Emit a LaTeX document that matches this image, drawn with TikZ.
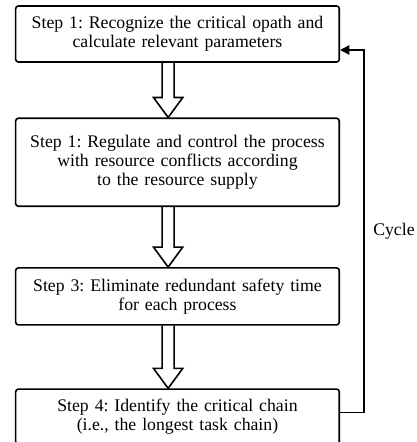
\documentclass[tikz,border=0pt]{standalone}
\usepackage{fontspec}
\setmainfont{Liberation Serif}
\frenchspacing
\usepackage{tikz}
\usetikzlibrary{
	arrows.meta,
	positioning,
	calc
}
% hollow block arrow from a node anchor down to another one
\newcommand{\hollowarrow}[2]{%
	\draw[outline] let \p1=(#1), \p2=(#2) in
		(\x1-4.5pt,\y1) -- (\x1-4.5pt,\y2+15pt) -- (\x1-11pt,\y2+15pt) -- (\x1,\y2)
		-- (\x1+11pt,\y2+15pt) -- (\x1+4.5pt,\y2+15pt) -- (\x1+4.5pt,\y1);
}

\begin{document}
\begin{tikzpicture}[
				stepbox/.style={
					rectangle, draw, rounded corners=2pt, line width=1.2pt,
					minimum width=240.75pt, text width=236pt,
					align=center, font=\fontsize{13.3}{14.4}\selectfont
				},
				outline/.style={line width=1.2pt, line join=miter},
				cyc/.style={-{Triangle[length=7pt,width=7pt]}, line width=1.2pt},
				]
				\useasboundingbox (0,0) rectangle (312.75pt,-331.5pt);
				
				%first set
				\node[stepbox, minimum height=42pt] (step1) at (133.1pt,-25.5pt)
					{Step 1: Recognize the critical opath and\\calculate relevant parameters};
				
				%2. set
				\node[stepbox, minimum height=66pt, below=41pt of step1] (step2)
					{Step 1: Regulate and control the process\\with resource conflicts according\\to the resource supply};
				\hollowarrow{[xshift=-7pt]step1.south}{[xshift=-7pt]step2.north}
				
				%3. set
				\node[stepbox, minimum height=42.75pt, below=45pt of step2] (step3)
					{Step 3: Eliminate redundant safety time\\for each process};
				\hollowarrow{[xshift=-7pt]step2.south}{[xshift=-7pt]step3.north}
				
				%4. set
				\node[stepbox, minimum height=41.25pt, below=47pt of step3] (step4)
					{Step 4: Identify the critical chain\\(i.e., the longest task chain)};
				\hollowarrow{[xshift=-7pt]step3.south}{[xshift=-7pt]step4.north}
				
				%back to the start
				\draw[cyc] ([yshift=3pt]step4.east) -- ++(18pt,0) |- ([yshift=-12pt]step1.east)
					node[pos=0.25, right=3pt, font=\fontsize{13.3}{14.4}\selectfont] (cycle) {Cycle};
			\end{tikzpicture}
\end{document}
